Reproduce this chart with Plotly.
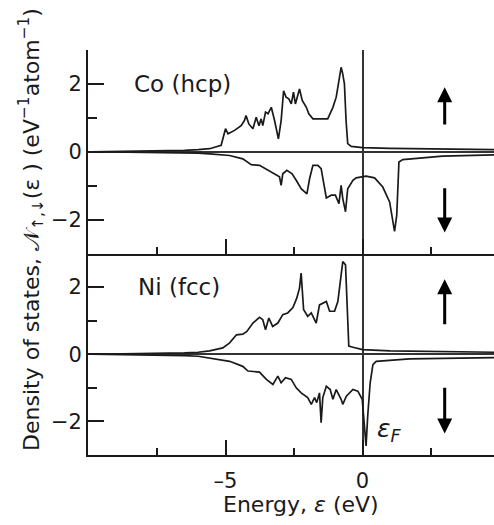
import plotly.graph_objects as go

# Spin-resolved density of states (states / eV / atom), energies relative to E_F (eV)
co_up_e = [-9.9, -8.5, -7.5, -6.5, -6.0, -5.58, -5.16, -5.04, -5.0, -4.91, -4.67, -4.43, -4.31,
           -4.25, -4.15, -4.0, -3.88, -3.78, -3.70, -3.64, -3.54, -3.45, -3.33, -3.21, -3.07,
           -2.97, -2.88, -2.79, -2.69, -2.60, -2.52, -2.45, -2.30, -2.20, -2.05, -1.96, -1.81,
           -1.27, -1.08, -0.96, -0.84, -0.78, -0.72, -0.66, -0.60, -0.54, -0.41, 0.0, 1.0, 2.5, 4.8]
co_up_dos = [0.0, 0.01, 0.02, 0.04, 0.06, 0.09, 0.19, 0.58, 0.68, 0.53, 0.63, 0.77, 0.92,
             1.07, 0.82, 0.68, 1.02, 0.77, 0.97, 0.77, 1.17, 1.12, 1.31, 0.92, 0.38,
             0.92, 1.80, 1.61, 1.56, 1.41, 1.76, 1.41, 1.85, 1.51, 1.31, 1.12, 0.97,
             0.97, 1.31, 1.61, 2.20, 2.49, 2.29, 2.0, 0.92, 0.24, 0.16, 0.12, 0.10, 0.08, 0.06]

co_dn_e = [-9.9, -8.5, -7.5, -6.5, -6.0, -5.58, -4.85, -4.37, -4.06, -3.76, -3.45, -3.21, -3.03,
           -2.97, -2.91, -2.76, -2.57, -2.42, -2.24, -2.03, -1.93, -1.81, -1.63, -1.51, -1.39,
           -1.32, -1.14, -0.99, -0.86, -0.78, -0.72, -0.62, -0.54, -0.35, -0.23, 0.13, 0.44,
           0.74, 0.99, 1.17, 1.25, 1.33, 1.47, 1.72, 2.92, 4.8]
co_dn_dos = [0.0, -0.01, -0.02, -0.03, -0.04, -0.06, -0.11, -0.21, -0.38, -0.40, -0.55, -0.65, -0.74,
             -0.99, -0.65, -0.55, -0.65, -0.84, -1.09, -1.24, -0.79, -0.40, -0.40, -0.50, -1.09,
             -1.36, -1.28, -1.28, -1.53, -0.99, -1.38, -1.77, -1.09, -0.84, -0.77, -0.72, -0.77,
             -1.04, -1.48, -2.35, -1.87, -0.30, -0.23, -0.21, -0.13, -0.09]

ni_up_e = [-9.9, -8.5, -7.5, -6.5, -6.0, -5.58, -5.10, -4.85, -4.60, -4.37, -4.22, -4.00, -3.76,
           -3.64, -3.54, -3.42, -3.28, -3.09, -2.91, -2.73, -2.54, -2.40, -2.30, -2.24, -2.15,
           -2.00, -1.87, -1.69, -1.57, -1.39, -1.32, -1.20, -1.02, -0.90, -0.78, -0.72, -0.62,
           -0.57, -0.50, -0.35, 0.0, 1.0, 2.5, 4.8]
ni_up_dos = [0.0, 0.01, 0.02, 0.04, 0.06, 0.10, 0.19, 0.34, 0.58, 0.60, 0.68, 0.93, 1.10,
             1.03, 0.73, 1.08, 0.83, 0.93, 1.18, 1.23, 1.39, 1.67, 1.97, 2.42, 1.33,
             1.13, 1.23, 0.93, 1.47, 1.53, 1.57, 1.28, 1.28, 1.57, 2.37, 2.76, 2.66,
             1.47, 0.24, 0.21, 0.14, 0.10, 0.08, 0.06]

ni_dn_e = [-9.9, -8.5, -7.5, -6.5, -6.0, -5.58, -4.85, -4.37, -4.18, -3.76, -3.51, -3.27, -3.09,
           -2.97, -2.81, -2.60, -2.42, -2.24, -2.00, -1.87, -1.75, -1.67, -1.57, -1.51, -1.45,
           -1.32, -1.18, -1.08, -0.96, -0.78, -0.72, -0.59, -0.35, -0.17, -0.01, 0.07, 0.13,
           0.19, 0.28, 0.38, 0.50, 1.72, 4.8]
ni_dn_dos = [0.0, -0.01, -0.02, -0.04, -0.06, -0.11, -0.21, -0.36, -0.50, -0.53, -0.75, -0.90, -0.65,
             -0.85, -0.70, -0.75, -1.00, -1.15, -1.29, -1.49, -1.29, -1.44, -1.15, -2.04, -1.29,
             -0.95, -1.05, -1.34, -1.05, -1.34, -1.49, -1.25, -1.05, -1.10, -1.34, -2.14, -2.73,
             -1.84, -0.85, -0.31, -0.21, -0.14, -0.10]

panel_labels = ["Co (hcp)", "Ni (fcc)"]
x_tick_vals = [-5, 0]
x_tick_text = ["\u20135", "0"]
y_tick_vals = [-2, 0, 2]
y_tick_text = ["\u22122", "0", "2"]

INK = "#1a1a1a"
FONT = "DejaVu Sans"
X_RANGE = [-10.02, 4.8]
Y_RANGE = [-3, 3]

fig = go.Figure()
line = dict(color=INK, width=1.7)
# top panel (Co): x2/y2, bottom panel (Ni): x/y
fig.add_trace(go.Scatter(x=co_up_e, y=co_up_dos, mode="lines", line=line, xaxis="x2", yaxis="y2"))
fig.add_trace(go.Scatter(x=co_dn_e, y=co_dn_dos, mode="lines", line=line, xaxis="x2", yaxis="y2"))
fig.add_trace(go.Scatter(x=ni_up_e, y=ni_up_dos, mode="lines", line=line, xaxis="x", yaxis="y"))
fig.add_trace(go.Scatter(x=ni_dn_e, y=ni_dn_dos, mode="lines", line=line, xaxis="x", yaxis="y"))

axis_common = dict(showline=True, linecolor=INK, linewidth=1.7, showgrid=False,
                   zeroline=True, zerolinecolor="#333", zerolinewidth=1.6,
                   ticks="inside", tickcolor=INK, tickwidth=1.5,
                   tickfont=dict(family=FONT, size=21, color=INK))

x_common = dict(axis_common, range=X_RANGE, tickmode="array", tickvals=x_tick_vals,
                ticklen=15, minor=dict(ticks="inside", tickmode="array",
                                       tickvals=[-7.5, -2.5, 2.5], ticklen=7,
                                       tickcolor=INK, tickwidth=1.5))
y_common = dict(axis_common, range=Y_RANGE, tickmode="array", tickvals=y_tick_vals,
                ticktext=y_tick_text, ticklen=16,
                minor=dict(ticks="inside", tickmode="array", tickvals=[-1, 1], ticklen=9,
                           tickcolor=INK, tickwidth=1.5))

SPLIT = 0.4975
fig.update_layout(
    width=494, height=525,
    margin=dict(l=88, r=0, t=50, b=70),
    paper_bgcolor="white", plot_bgcolor="white",
    showlegend=False,
    xaxis=dict(x_common, domain=[0, 1], anchor="y", ticktext=x_tick_text, ticklabelstandoff=6),
    yaxis=dict(y_common, domain=[0, SPLIT], anchor="x"),
    xaxis2=dict(x_common, domain=[0, 1], anchor="y2", showticklabels=False),
    yaxis2=dict(y_common, domain=[SPLIT, 1], anchor="x2"),
    # upper frame edge of the top panel with its own short ticks
    xaxis3=dict(range=X_RANGE, overlaying="x2", side="top", anchor="y2",
                showline=True, linecolor=INK, linewidth=1.7, showgrid=False, zeroline=False,
                ticks="inside", tickmode="array", tickvals=[-7.5, -5, -2.5, 2.5], ticklen=8,
                tickcolor=INK, tickwidth=1.5, showticklabels=False),
)

# panel labels
fig.add_annotation(x=-8.4, y=2.0, xref="x2", yref="y2", text=panel_labels[0], showarrow=False,
                   xanchor="left", yanchor="middle", font=dict(family=FONT, size=23, color=INK))
fig.add_annotation(x=-8.25, y=2.0, xref="x", yref="y", text=panel_labels[1], showarrow=False,
                   xanchor="left", yanchor="middle", font=dict(family=FONT, size=23, color=INK))

# spin arrows
arrow = dict(showarrow=True, arrowhead=2, arrowsize=1.0, arrowwidth=3, arrowcolor="#000", text="")
fig.add_annotation(x=3, y=1.9, ax=3, ay=0.76, xref="x2", yref="y2", axref="x2", ayref="y2", **arrow)
fig.add_annotation(x=3, y=-2.38, ax=3, ay=-1.03, xref="x2", yref="y2", axref="x2", ayref="y2", **arrow)
fig.add_annotation(x=3, y=2.23, ax=3, ay=0.85, xref="x", yref="y", axref="x", ayref="y", **arrow)
fig.add_annotation(x=3, y=-2.36, ax=3, ay=-0.95, xref="x", yref="y", axref="x", ayref="y", **arrow)

# Fermi level label
fig.add_annotation(x=0.45, y=-2.25, xref="x", yref="y", text="<i>\u03b5</i><sub><i>F</i></sub>",
                   showarrow=False, xanchor="left", yanchor="middle",
                   font=dict(family=FONT, size=25, color=INK))

# axis titles
fig.add_annotation(x=0.525, y=-0.123, xref="paper", yref="paper",
                   text="Energy, <i>\u03b5</i> (eV)", showarrow=False,
                   xanchor="center", yanchor="middle", font=dict(family=FONT, size=22, color=INK))
fig.add_annotation(x=-0.14, y=0.556, xref="paper", yref="paper", textangle=-90,
                   text="Density of states, \U0001D4A9<sub>\u2191,\u2193</sub>(\u03b5 ) (eV<sup>\u22121</sup>atom<sup>\u22121</sup>)",
                   showarrow=False, xanchor="center", yanchor="middle",
                   font=dict(family=FONT, size=22, color=INK))

fig.write_html("out.html")
